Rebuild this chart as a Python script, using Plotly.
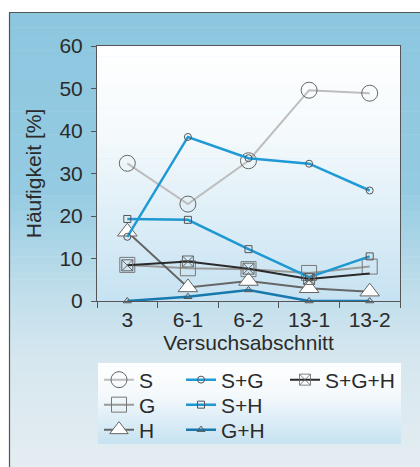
import plotly.graph_objects as go

# ---------------- data ----------------
categories = ["3", "6-1", "6-2", "13-1", "13-2"]
s_vals = [32.4, 22.8, 33.0, 49.6, 48.9]
g_vals = [8.5, 7.7, 7.5, 6.6, 8.1]
h_vals = [16.3, 3.2, 4.7, 3.0, 2.2]
sg_vals = [15.1, 38.6, 33.6, 32.3, 26.0]
sh_vals = [19.3, 19.1, 12.2, 5.6, 10.5]
gh_vals = [0.0, 1.0, 2.6, 0.0, 0.0]
sgh_vals = [8.4, 9.3, 7.6, 5.2, 6.5]
sgh_marker_shown = [True, True, True, True, False]
y_ticks = [0, 10, 20, 30, 40, 50, 60]

W, H = 420, 467
ML, MR, MT, MB = 97, 20, 46, 166
PW, PH = W - ML - MR, H - MT - MB


def px(xp):
    return (xp - ML) / PW


def py(yp):
    return (H - MB - yp) / PH


def hex2rgb(c):
    c = c.lstrip("#")
    return tuple(int(c[i:i + 2], 16) for i in (0, 2, 4))


def interp(stops, t):
    for (t0, c0), (t1, c1) in zip(stops[:-1], stops[1:]):
        if t0 <= t <= t1:
            f = 0 if t1 == t0 else (t - t0) / (t1 - t0)
            a, b = hex2rgb(c0), hex2rgb(c1)
            return "rgb(%d,%d,%d)" % tuple(round(a[i] + (b[i] - a[i]) * f) for i in range(3))
    return stops[-1][1]


def gradient(x0, x1, y0, y1, stops, n):
    out = []
    step = (y1 - y0) / n
    for i in range(n):
        ya = y0 + i * step
        yb = ya + step + 0.6
        col = interp(stops, (ya + step / 2))
        out.append(dict(type="rect", xref="paper", yref="paper", layer="below",
                        x0=px(x0), x1=px(x1), y0=py(min(yb, y1)), y1=py(ya),
                        fillcolor=col, line=dict(width=0)))
    return out


shapes = []
# outer panel
shapes += gradient(9, 425, 12, 470, [(0, "#8cc6df"), (190, "#94cbe2"), (280, "#bcdcea"),
                                     (360, "#d6e7ef"), (470, "#e4edf1")], 60)
shapes.append(dict(type="rect", xref="paper", yref="paper", layer="below",
                   x0=px(9.5), x1=px(430), y0=py(480), y1=py(12.5),
                   line=dict(color="#555555", width=1.2), fillcolor="rgba(0,0,0,0)"))
# plot area
shapes += gradient(97, 400, 46, 301, [(46, "#ffffff"), (140, "#f3f9fc"), (301, "#c6e2f2")], 50)
# legend box
shapes += gradient(98, 401, 363, 444, [(363, "#ffffff"), (395, "#f4f9fc"), (444, "#c6e2f1")], 25)

FONT = "Liberation Sans, Arial, sans-serif"
TXT = "#2b2b2b"
FS = 21

fig = go.Figure()

# legend slot positions (pixel x of legend left, pixel y of row centre)
legend_slots = {
    "legend": (99, 380), "legend2": (99, 405), "legend3": (99, 430),
    "legend4": (181, 380), "legend5": (181, 405), "legend6": (181, 430),
    "legend7": (285, 380),
}


def add(name, vals, lcolor, lwidth, symbol, msize, mcolor, mline, legend, mlw=1, mop=None):
    fig.add_trace(go.Scatter(
        x=categories, y=vals, name=name, mode="lines+markers", legend=legend,
        line=dict(color=lcolor, width=lwidth),
        marker=dict(symbol=symbol, size=msize, color=mcolor, opacity=mop,
                    line=dict(color=mline, width=mlw)),
        cliponaxis=False))


add("S", s_vals, "#bdbdbd", 2, "circle-open", 16, "#666666", "#666666", "legend")
add("G", g_vals, "#9a9a9a", 2, "square-open", 15, "#777777", "#777777", "legend2")
add("H", h_vals, "#666666", 2, "triangle-up", 17, "#ffffff", "#666666", "legend3")
add("G+H", gh_vals, "#1779ad", 2.5, "triangle-up-open", 7, "#555555", "#555555", "legend6")
add("S+H", sh_vals, "#1f98d2", 2.5, "square-open", 7, "#555555", "#555555", "legend5")
add("S+G", sg_vals, "#1f9ad6", 2.5, "circle-open", 7, "#555555", "#555555", "legend4")
add("S+G+H", sgh_vals, "#2a2a2a", 2, "square-x-open", 11, "#666666", "#666666", "legend7",
    mop=[1 if m else 0 for m in sgh_marker_shown])

leg_common = dict(bgcolor="rgba(0,0,0,0)", borderwidth=0, font=dict(family=FONT, size=FS, color=TXT),
                  xanchor="left", yanchor="middle", orientation="v", tracegroupgap=0,
                  itemwidth=30, itemsizing="trace")
legends = {k: dict(x=px(v[0]), y=py(v[1]), **leg_common) for k, v in legend_slots.items()}

fig.update_layout(
    width=W, height=H,
    margin=dict(l=ML, r=MR, t=MT, b=MB, autoexpand=False),
    paper_bgcolor="#ffffff", plot_bgcolor="rgba(0,0,0,0)",
    font=dict(family=FONT, size=FS, color=TXT),
    shapes=shapes,
    showlegend=True,
    **legends,
    xaxis=dict(type="category", categoryorder="array", categoryarray=categories,
               range=[-0.5, 4.5], showgrid=False, zeroline=False,
               showline=True, linecolor="#555555", linewidth=1, mirror=True,
               ticks="outside", ticklen=6, tickcolor="#555555", tickson="boundaries",
               tickfont=dict(size=FS, color=TXT),
               title=dict(text="Versuchsabschnitt", standoff=2, font=dict(size=FS, color=TXT))),
    yaxis=dict(range=[0, 60], tickvals=y_ticks, showgrid=False, zeroline=False,
               showline=True, linecolor="#555555", linewidth=1, mirror=True,
               ticks="outside", ticklen=5, tickcolor="#555555",
               tickfont=dict(size=FS, color=TXT), ticklabelstandoff=4,
               title=dict(text="Häufigkeit [%]", standoff=12, font=dict(size=FS, color=TXT))),
)

fig.write_html("out.html", config={"displayModeBar": False},
               post_script="document.body.style.margin='0px';")
